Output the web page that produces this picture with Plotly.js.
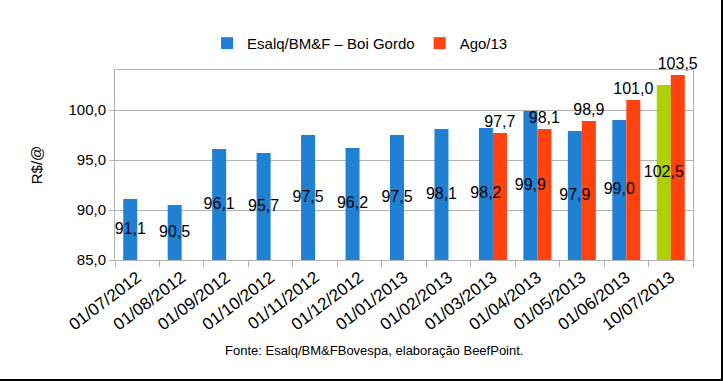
<!DOCTYPE html>
<html>
<head>
<meta charset="utf-8">
<script src="https://cdn.plot.ly/plotly-3.0.1.min.js"></script>
<style>
html,body{margin:0;padding:0;background:#fff;}
#wrap{width:723px;height:381px;box-sizing:border-box;border-right:2px solid #000;border-bottom:2px solid #000;overflow:hidden;}
#chart{width:721px;height:379px;}
</style>
</head>
<body>
<div id="wrap"><div id="chart"></div></div>
<script>
const categories = ["01/07/2012","01/08/2012","01/09/2012","01/10/2012","01/11/2012","01/12/2012","01/01/2013","01/02/2013","01/03/2013","01/04/2013","01/05/2013","01/06/2013","10/07/2013"];
const esalqValues = [91.1, 90.5, 96.1, 95.7, 97.5, 96.2, 97.5, 98.1, 98.2, 99.9, 97.9, 99.0, 102.5];
const agoValues = [null, null, null, null, null, null, null, null, 97.7, 98.1, 98.9, 101.0, 103.5];
const seriesNames = ["Esalq/BM&F \u2013 Boi Gordo", "Ago/13"];
const yTicks = [85, 90, 95, 100];
const yRange = [85, 104];

const blue = "#1f80d4", orange = "#ff420e", green = "#aecf00";
const esalqColors = categories.map((c, i) => i === categories.length - 1 ? green : blue);
const font = "Liberation Sans, Arial, sans-serif";

// visible part of each blue bar runs from the axis floor to its value; label sits at its middle
const esalqLabelY = esalqValues.map(v => (yRange[0] + v) / 2);

const traces = [
  {
    type: "bar", name: seriesNames[0], x: categories, y: esalqValues,
    marker: {color: esalqColors}, offsetgroup: "a",
    cliponaxis: false, hoverinfo: "skip"
  },
  {
    type: "bar", name: seriesNames[1], x: categories, y: agoValues,
    marker: {color: orange}, offsetgroup: "b",
    texttemplate: "%{y:.1f}", textposition: "outside",
    constraintext: "none",
    textangle: 0, textfont: {family: font, size: 16, color: "#000"},
    cliponaxis: false, hoverinfo: "skip"
  },
  {
    type: "scatter", mode: "text", x: categories, y: esalqLabelY,
    text: esalqValues.map(v => v.toFixed(1).replace(".", ",")),
    textposition: "middle center",
    textfont: {family: font, size: 16, color: "#000"},
    showlegend: false, cliponaxis: false, hoverinfo: "skip",
    xaxis: "x2"
  }
];

const layout = {
  width: 721, height: 379,
  margin: {l: 115, r: 28, t: 70, b: 119},
  paper_bgcolor: "#fff", plot_bgcolor: "#fff",
  separators: ", ",
  font: {family: font, size: 13, color: "#000"},
  barmode: "group", bargap: 0.37, bargroupgap: 0,
  showlegend: true,
  legend: {orientation: "h", x: 0.424, xanchor: "center", y: 1.14, yanchor: "middle",
           font: {family: font, size: 15}, itemwidth: 30, traceorder: "normal"},
  xaxis: {
    type: "category", tickangle: -37, tickfont: {family: font, size: 17},
    ticks: "outside", tickson: "boundaries", ticklen: 6, tickcolor: "#b3b3b3",
    showline: true, linecolor: "#b3b3b3", mirror: true, showgrid: false
  },
  xaxis2: {
    type: "linear", overlaying: "x", visible: false,
    range: [-0.5, categories.length - 0.5]
  },
  yaxis: {
    range: yRange, tickvals: yTicks, tickformat: ".1f",
    tickfont: {family: font, size: 15},
    ticks: "outside", ticklen: 5, tickcolor: "#b3b3b3",
    showline: true, linecolor: "#b3b3b3", mirror: true,
    showgrid: true, gridcolor: "#b3b3b3", zeroline: false,
    title: {text: "R$/@", font: {family: font, size: 15}, standoff: 22}
  },
  annotations: [{
    text: "Fonte: Esalq/BM&FBovespa, elabora\u00e7\u00e3o BeefPoint.",
    xref: "paper", yref: "paper", x: 0.448, y: -0.474, xanchor: "center", yanchor: "middle",
    showarrow: false, font: {family: font, size: 13, color: "#000"}
  }]
};

// label x positions: centre of the blue bar in each group (category index shifted left by a quarter of the group)
traces[2].x = categories.map((c, i) => i - (1 - layout.bargap) / 4);

Plotly.newPlot("chart", traces, layout, {staticPlot: true, displayModeBar: false});
</script>
</body>
</html>
